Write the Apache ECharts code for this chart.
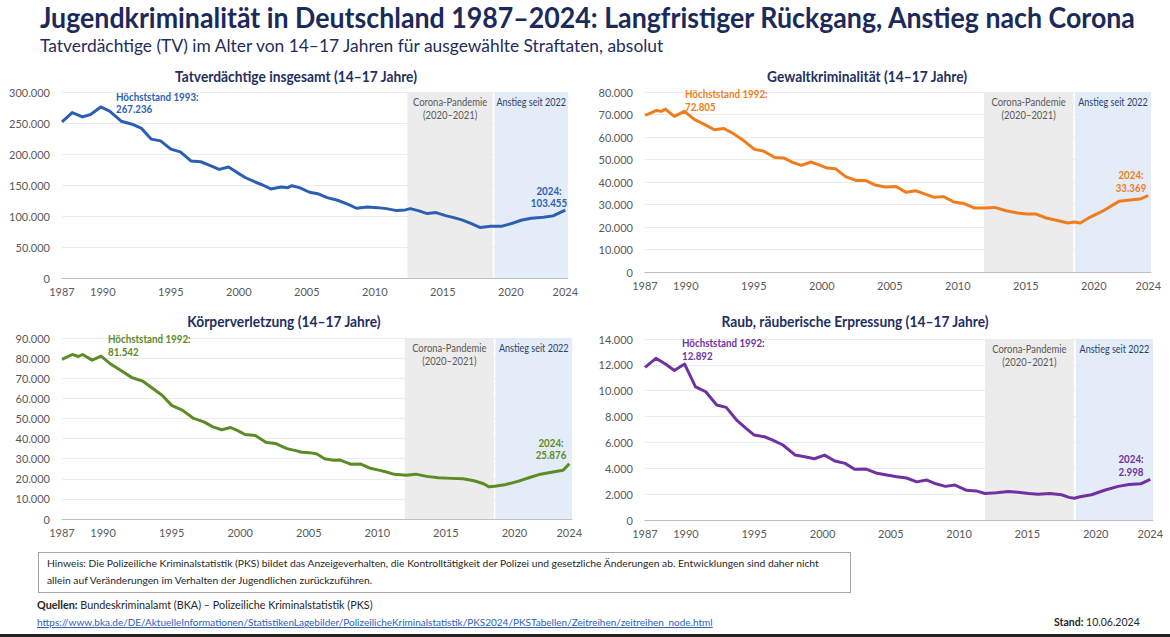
<!DOCTYPE html>
<html lang="de">
<head>
<meta charset="utf-8">
<title>Jugendkriminalität in Deutschland 1987–2024</title>
<script src="https://cdn.jsdelivr.net/npm/echarts@6/dist/echarts.min.js"></script>
<style>
  html, body { margin: 0; padding: 0; background: #fff; }
  #wrap { position: relative; width: 1170px; height: 637px; overflow: hidden; font-family: Lato, sans-serif; }
  #chart { position: absolute; left: 0; top: 0; width: 1170px; height: 637px; }
  .txt { position: absolute; white-space: nowrap; transform-origin: 0 0; }
  #titel { left: 40px; top: 0px; font-size: 28px; line-height: 34px; font-weight: bold; color: #1b2a59; transform: scaleX(0.955); }
  #untertitel { left: 40px; top: 36px; font-size: 17.4px; line-height: 20px; color: #1f2d5c; }
  #hinweis { left: 38px; top: 552px; width: 803px; height: 37px; border: 1px solid #a6a6a6;
             padding: 2px 0 0 8px; font-size: 10.3px; line-height: 17px; color: #262626; }
  #quellen { left: 37px; top: 597px; font-size: 10.8px; line-height: 16px; color: #262626; }
  #url { left: 37px; top: 614px; font-size: 10px; line-height: 16px; color: #2f62b8; text-decoration: underline; }
  #stand { left: 1054px; top: 614px; font-size: 10.5px; line-height: 16px; color: #262626; }
  #rand { left: 0; top: 634px; width: 1170px; height: 3px; background: #222; }
</style>
</head>
<body>
<div id="wrap">
  <div id="chart"></div>
  <div class="txt" id="titel">Jugendkriminalität in Deutschland 1987–2024: Langfristiger Rückgang, Anstieg nach Corona</div>
  <div class="txt" id="untertitel">Tatverdächtige (TV) im Alter von 14–17 Jahren für ausgewählte Straftaten, absolut</div>
  <div class="txt" id="hinweis">Hinweis: Die Polizeiliche Kriminalstatistik (PKS) bildet das Anzeigeverhalten, die Kontrolltätigkeit der Polizei und gesetzliche Änderungen ab. Entwicklungen sind daher nicht<br>allein auf Veränderungen im Verhalten der Jugendlichen zurückzuführen.</div>
  <div class="txt" id="quellen"><b>Quellen:</b> Bundeskriminalamt (BKA) – Polizeiliche Kriminalstatistik (PKS)</div>
  <div class="txt" id="url">https://www.bka.de/DE/AktuelleInformationen/StatistikenLagebilder/PolizeilicheKriminalstatistik/PKS2024/PKSTabellen/Zeitreihen/zeitreihen_node.html</div>
  <div class="txt" id="stand"><b>Stand:</b> 10.06.2024</div>
  <div class="txt" id="rand"></div>
</div>
<script>
// Werte (Jahr als Dezimalwert, da die Linie mehr Knicke als Jahre hat)
const jahreGesamt = [1987.0, 1987.75, 1988.5, 1989.1, 1989.85, 1990.5, 1991.35, 1992.15, 1992.85, 1993.55,
  1994.25, 1995.0, 1995.7, 1996.5, 1997.2, 1997.95, 1998.55, 1999.25, 1999.85, 2000.5,
  2001.15, 2001.75, 2002.35, 2003.1, 2003.6, 2003.9, 2004.45, 2005.2, 2005.8, 2006.5,
  2007.25, 2008.0, 2008.65, 2009.45, 2010.2, 2010.85, 2011.6, 2012.25, 2012.6, 2013.25,
  2013.85, 2014.5, 2015.2, 2015.8, 2016.4, 2017.1, 2017.75, 2018.5, 2019.35, 2020.05,
  2020.75, 2021.5, 2022.4, 2023.1, 2024];
const tvGesamt = [251800, 266900, 259800, 263700, 275900, 269000, 252900, 248000, 241200, 224000,
  221200, 207900, 203500, 188600, 187500, 181000, 175200, 178900, 170400, 161700,
  155300, 150000, 143600, 146800, 145700, 148900, 145700, 138300, 136000, 129600,
  125400, 119000, 112500, 114600, 113500, 111900, 108700, 109800, 111900, 108200,
  103900, 105500, 100600, 97400, 93700, 87800, 81300, 83600, 83600, 87800,
  93200, 96500, 98100, 100200, 109300];

const jahreGewalt = [1987.0, 1987.45, 1987.85, 1988.2, 1988.5, 1989.15, 1989.9, 1990.65, 1991.4, 1992.1,
  1992.8, 1993.5, 1994.25, 1995.05, 1995.7, 1996.55, 1997.2, 1997.85, 1998.5, 1999.2,
  1999.75, 2000.4, 2001.0, 2001.75, 2002.5, 2003.2, 2003.9, 2004.65, 2005.45, 2006.2,
  2006.9, 2007.55, 2008.25, 2008.95, 2009.7, 2010.45, 2011.25, 2011.95, 2012.7, 2013.55,
  2014.4, 2015.05, 2015.7, 2016.5, 2017.4, 2018.1, 2018.55, 2019.0, 2019.7, 2020.6,
  2021.35, 2021.85, 2022.65, 2023.4, 2024];
const tvGewalt = [69600, 70700, 71800, 71400, 72400, 69200, 71400, 67700, 65500, 63200,
  63800, 61500, 58400, 54500, 53800, 50900, 50700, 48700, 47400, 48900,
  47700, 46200, 45900, 42400, 40700, 40700, 38700, 37800, 38000, 35400,
  36100, 34700, 33200, 33500, 31100, 30400, 28400, 28400, 28700, 27200,
  26200, 25800, 25800, 24000, 22800, 21800, 22200, 21800, 24300, 26900,
  29600, 31400, 32000, 32400, 34000];

const jahreKoerper = [1987.0, 1987.75, 1988.2, 1988.5, 1989.2, 1989.85, 1990.6, 1991.3, 1992.1, 1992.9,
  1993.55, 1994.3, 1995.0, 1995.8, 1996.6, 1997.35, 1998.0, 1998.65, 1999.3, 1999.85,
  2000.35, 2001.1, 2001.9, 2002.6, 2003.4, 2004.05, 2004.5, 2005.05, 2005.6, 2006.15,
  2006.8, 2007.3, 2008.1, 2008.8, 2009.5, 2010.1, 2010.6, 2011.25, 2012.1, 2012.8,
  2013.6, 2014.45, 2015.4, 2016.25, 2017.05, 2017.75, 2018.15, 2018.55, 2019.4, 2020.25,
  2021.05, 2021.9, 2022.7, 2023.55, 2024];
const tvKoerper = [79400, 81800, 80800, 81800, 79000, 81000, 76800, 73800, 70300, 68500,
  65300, 61500, 56500, 54000, 50000, 48300, 45800, 44400, 45500, 43800,
  42000, 41500, 38000, 37500, 35000, 34000, 33200, 33000, 32300, 30000,
  29200, 29300, 27200, 27300, 25200, 24300, 23500, 22200, 21800, 22300,
  21200, 20500, 20200, 20000, 19000, 17500, 16000, 16300, 17200, 18700,
  20500, 22300, 23200, 24200, 27500];

const jahreRaub = [1987.0, 1987.8, 1988.5, 1989.15, 1989.9, 1990.7, 1991.45, 1992.25, 1992.95, 1993.75,
  1994.4, 1995.0, 1995.75, 1996.35, 1997.1, 1998.0, 1998.7, 1999.4, 2000.15, 2000.9,
  2001.65, 2002.35, 2003.2, 2004.0, 2004.7, 2005.45, 2006.15, 2006.9, 2007.6, 2008.3,
  2009.0, 2009.7, 2010.55, 2011.25, 2011.9, 2012.75, 2013.6, 2014.3, 2015.1, 2015.8,
  2016.65, 2017.5, 2018.05, 2018.45, 2018.85, 2019.7, 2020.65, 2021.65, 2022.45, 2023.3,
  2024];
const tvRaub = [11800, 12500, 12060, 11570, 12060, 10300, 9920, 8890, 8710, 7680,
  7090, 6570, 6440, 6180, 5800, 5020, 4890, 4740, 5020, 4560,
  4380, 3920, 3940, 3610, 3480, 3350, 3250, 2950, 3100, 2800,
  2600, 2700, 2300, 2250, 2050, 2100, 2200, 2150, 2050, 2000,
  2050, 1950, 1750, 1680, 1800, 1950, 2300, 2600, 2750, 2800,
  3150];

const xLabels = [1987, 1990, 1995, 2000, 2005, 2010, 2015, 2020, 2024];

const punkt = v => String(v).replace(/\B(?=(\d{3})+(?!\d))/g, '.');
const FONT = 'Lato, sans-serif';

const panels = [
  { titel: 'Tatverdächtige insgesamt (14–17 Jahre)', jahre: jahreGesamt, werte: tvGesamt,
    farbe: '#2b5fb4', max: 300000, step: 50000,
    grid: { left: 62, top: 92, width: 506, height: 186 }, titelPos: [296, 69],
    corona: [2012.4, 2018.67], anstieg: [2018.79, 2024.2],
    peak: ['Höchststand 1993:\n267.236', 116, 89.5], ende: ['2024:\n103.455', 549, 183.5] },
  { titel: 'Gewaltkriminalität (14–17 Jahre)', jahre: jahreGewalt, werte: tvGewalt,
    farbe: '#f07d1d', max: 80000, step: 10000,
    grid: { left: 645, top: 92, width: 506, height: 180 }, titelPos: [867, 69],
    corona: [2011.92, 2018.49], anstieg: [2018.61, 2024.2],
    peak: ['Höchststand 1992:\n72.805', 685, 87], ende: ['2024:\n33.369', 1131, 168] },
  { titel: 'Körperverletzung (14–17 Jahre)', jahre: jahreKoerper, werte: tvKoerper,
    farbe: '#5b8c25', max: 90000, step: 10000,
    grid: { left: 62, top: 338, width: 510, height: 181 }, titelPos: [284, 314],
    corona: [2012.0, 2018.5], anstieg: [2018.62, 2024.2],
    peak: ['Höchststand 1992:\n81.542', 108, 332], ende: ['2024:\n25.876', 551, 435.5] },
  { titel: 'Raub, räuberische Erpressung (14–17 Jahre)', jahre: jahreRaub, werte: tvRaub,
    farbe: '#7231a1', max: 14000, step: 2000,
    grid: { left: 645, top: 339, width: 508, height: 181 }, titelPos: [855, 314],
    corona: [2011.9, 2018.4], anstieg: [2018.55, 2024.2],
    peak: ['Höchststand 1992:\n12.892', 682, 336], ende: ['2024:\n2.998', 1131, 452] }
];

const chart = echarts.init(document.getElementById('chart'), null, { renderer: 'svg' });

chart.setOption({
  animation: false,
  textStyle: { fontFamily: FONT },
  grid: panels.map(p => p.grid),
  xAxis: panels.map((p, i) => ({
    type: 'value', gridIndex: i, min: 1987, max: 2024.2,
    axisLine: { show: true, lineStyle: { color: '#bfbfbf', width: 1 } },
    axisTick: { show: false },
    splitLine: { show: false },
    axisLabel: { customValues: xLabels, color: '#595959', fontSize: 11, margin: 8,
      formatter: v => String(Math.round(v)) }
  })),
  yAxis: panels.map((p, i) => ({
    type: 'value', gridIndex: i, min: 0, max: p.max, interval: p.step,
    axisLine: { show: false }, axisTick: { show: false },
    splitLine: { lineStyle: { color: '#ebebeb', width: 1 } },
    axisLabel: { color: '#595959', fontSize: 11, margin: 12, formatter: v => punkt(v) }
  })),
  series: panels.map((p, i) => ({
    type: 'line', xAxisIndex: i, yAxisIndex: i,
    data: p.jahre.map((j, k) => [j, p.werte[k]]),
    showSymbol: false, smooth: false,
    lineStyle: { color: p.farbe, width: 3, join: 'round' },
    itemStyle: { color: p.farbe },
    markArea: {
      silent: true,
      label: { show: false },
      data: [
        [{ xAxis: p.corona[0], itemStyle: { color: '#ececec' } }, { xAxis: p.corona[1] }],
        [{ xAxis: p.anstieg[0], itemStyle: { color: '#e4ecf7' } }, { xAxis: p.anstieg[1] }]
      ]
    }
  }))
});

// Beschriftungen der Zeitbereiche an der Achse verankert
const graphic = [];
panels.forEach((p, i) => {
  const px = v => chart.convertToPixel({ xAxisIndex: i }, v);
  const oben = p.grid.top + 3;
  graphic.push({ type: 'text', z: 10, x: (px(p.corona[0]) + px(p.corona[1])) / 2, y: oben, scaleX: 0.9,
    style: { text: 'Corona-Pandemie\n(2020–2021)', font: '10.5px ' + FONT, fill: '#595959',
      lineHeight: 13.4, align: 'center' } });
  graphic.push({ type: 'text', z: 10, x: (px(p.anstieg[0]) + px(p.anstieg[1])) / 2, y: oben, scaleX: 0.86,
    style: { text: 'Anstieg seit 2022', font: '10.5px ' + FONT, fill: '#2a3f6e',
      lineHeight: 13.4, align: 'center' } });
  graphic.push({ type: 'text', z: 10, x: p.titelPos[0], y: p.titelPos[1], scaleX: 0.92,
    style: { text: p.titel, font: 'bold 15px ' + FONT, fill: '#1f2f5f', align: 'center' } });
  graphic.push({ type: 'text', z: 10, x: p.peak[1], y: p.peak[2], scaleX: 0.85,
    style: { text: p.peak[0], font: 'bold 11.5px ' + FONT, fill: p.farbe, lineHeight: 12.5 } });
  graphic.push({ type: 'text', z: 10, x: p.ende[1], y: p.ende[2], scaleX: 0.85,
    style: { text: p.ende[0], font: 'bold 11.5px ' + FONT, fill: p.farbe, lineHeight: 12.5, align: 'center' } });
});
chart.setOption({ graphic: graphic });
</script>
</body>
</html>
